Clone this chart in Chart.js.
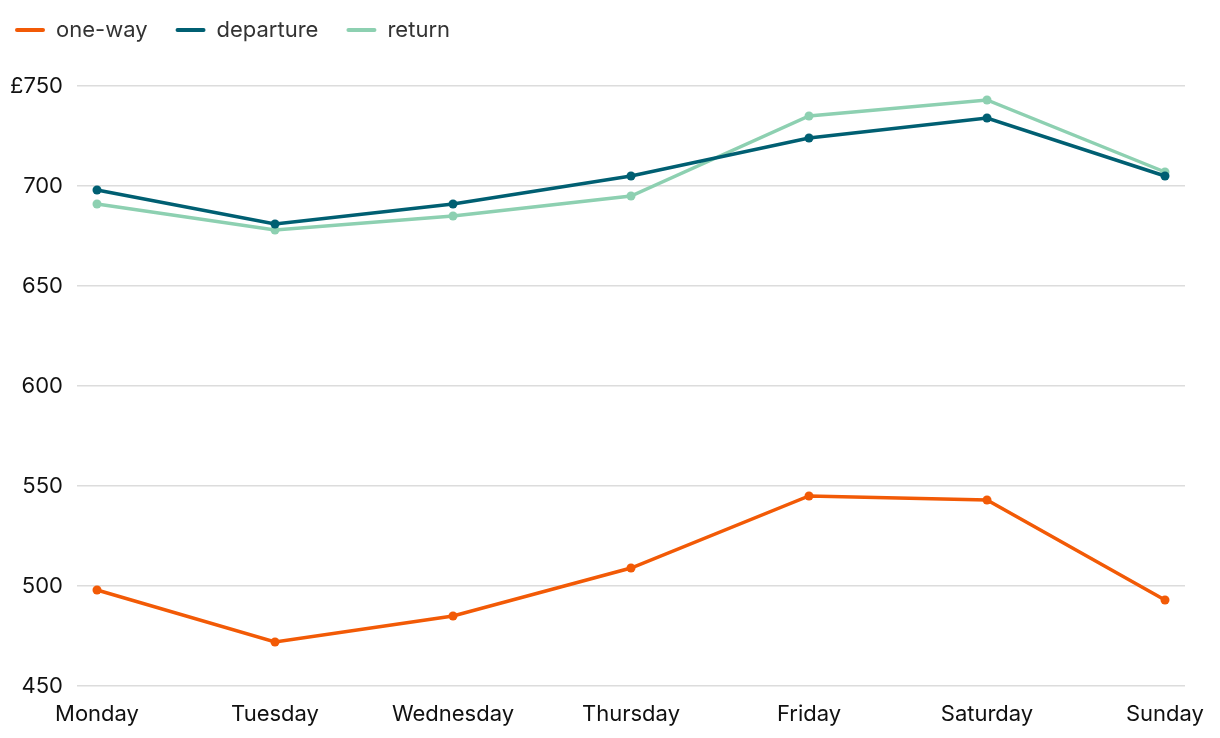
<!DOCTYPE html>
<html>
<head>
<meta charset="utf-8">
<script src="https://cdn.jsdelivr.net/npm/chart.js@4"></script>
<style>
  html, body { margin: 0; padding: 0; background: #fff; }
  #wrap { width: 1220px; height: 738px; }
</style>
</head>
<body>
<div id="wrap"><canvas id="c" width="1220" height="738"></canvas></div>
<script>
const days = ['Monday', 'Tuesday', 'Wednesday', 'Thursday', 'Friday', 'Saturday', 'Sunday'];
const oneWay = [498, 472, 485, 509, 545, 543, 493];
const departure = [698, 681, 691, 705, 724, 734, 705];
const returnFare = [691, 678, 685, 695, 735, 743, 707];
const yTicks = [450, 500, 550, 600, 650, 700, 750];

const toPts = arr => arr.map((v, i) => ({ x: i, y: v }));
const mk = (label, data, color) => ({
  label, data: toPts(data), borderColor: color, backgroundColor: color,
  borderWidth: 3.5, pointRadius: 4.5, pointHoverRadius: 4.5, pointBorderWidth: 0,
  tension: 0
});

const LEGEND_PAD = 28;
const legendPlace = {
  id: 'legendPlace',
  beforeDraw(chart) {
    const l = chart.legend;
    if (!l) return;
    const w = l.right - l.left;
    l.left = 15 - LEGEND_PAD;
    l.right = l.left + w;
    l.top = 30 - 11 - LEGEND_PAD;
  }
};

new Chart(document.getElementById('c'), {
  type: 'line',
  data: {
    datasets: [
      mk('one-way', oneWay, '#f25a06'),
      mk('departure', departure, '#005f72'),
      mk('return', returnFare, '#8dd0b1')
    ]
  },
  plugins: [legendPlace],
  options: {
    responsive: false,
    animation: false,
    devicePixelRatio: 1,
    layout: { padding: { left: 10, right: 35, top: 26, bottom: 0 } },
    plugins: {
      tooltip: { enabled: false },
      legend: {
        position: 'top',
        align: 'start',
        labels: {
          boxWidth: 30, boxHeight: 4, useBorderRadius: true, borderRadius: 2,
          color: '#333', padding: LEGEND_PAD,
          font: { family: 'Inter', size: 22 },
          generateLabels: chart => chart.data.datasets.map((d, i) => ({
            text: d.label, fillStyle: d.borderColor, strokeStyle: d.borderColor,
            lineWidth: 0, datasetIndex: i, borderRadius: 2, fontColor: '#333'
          }))
        }
      }
    },
    scales: {
      x: {
        type: 'linear',
        min: -0.1124, max: 6.1124,
        afterBuildTicks: axis => { axis.ticks = days.map((d, i) => ({ value: i })); },
        afterFit: axis => { axis.height = 52; },
        grid: { display: false, drawTicks: false },
        border: { display: false },
        ticks: {
          callback: v => days[v],
          color: '#111', padding: 15, maxRotation: 0, autoSkip: false,
          font: { family: 'Inter', size: 22 }
        }
      },
      y: {
        min: 450, max: 750,
        afterBuildTicks: axis => { axis.ticks = yTicks.map(v => ({ value: v })); },
        afterFit: axis => { axis.width = 67; },
        grid: { color: '#dcdcdc', lineWidth: 1.5, drawTicks: false },
        border: { display: false },
        ticks: {
          callback: v => (v === 750 ? '£' + v : '' + v),
          color: '#111', padding: 14,
          font: { family: 'Inter', size: 22 }
        }
      }
    }
  }
});
</script>
</body>
</html>
